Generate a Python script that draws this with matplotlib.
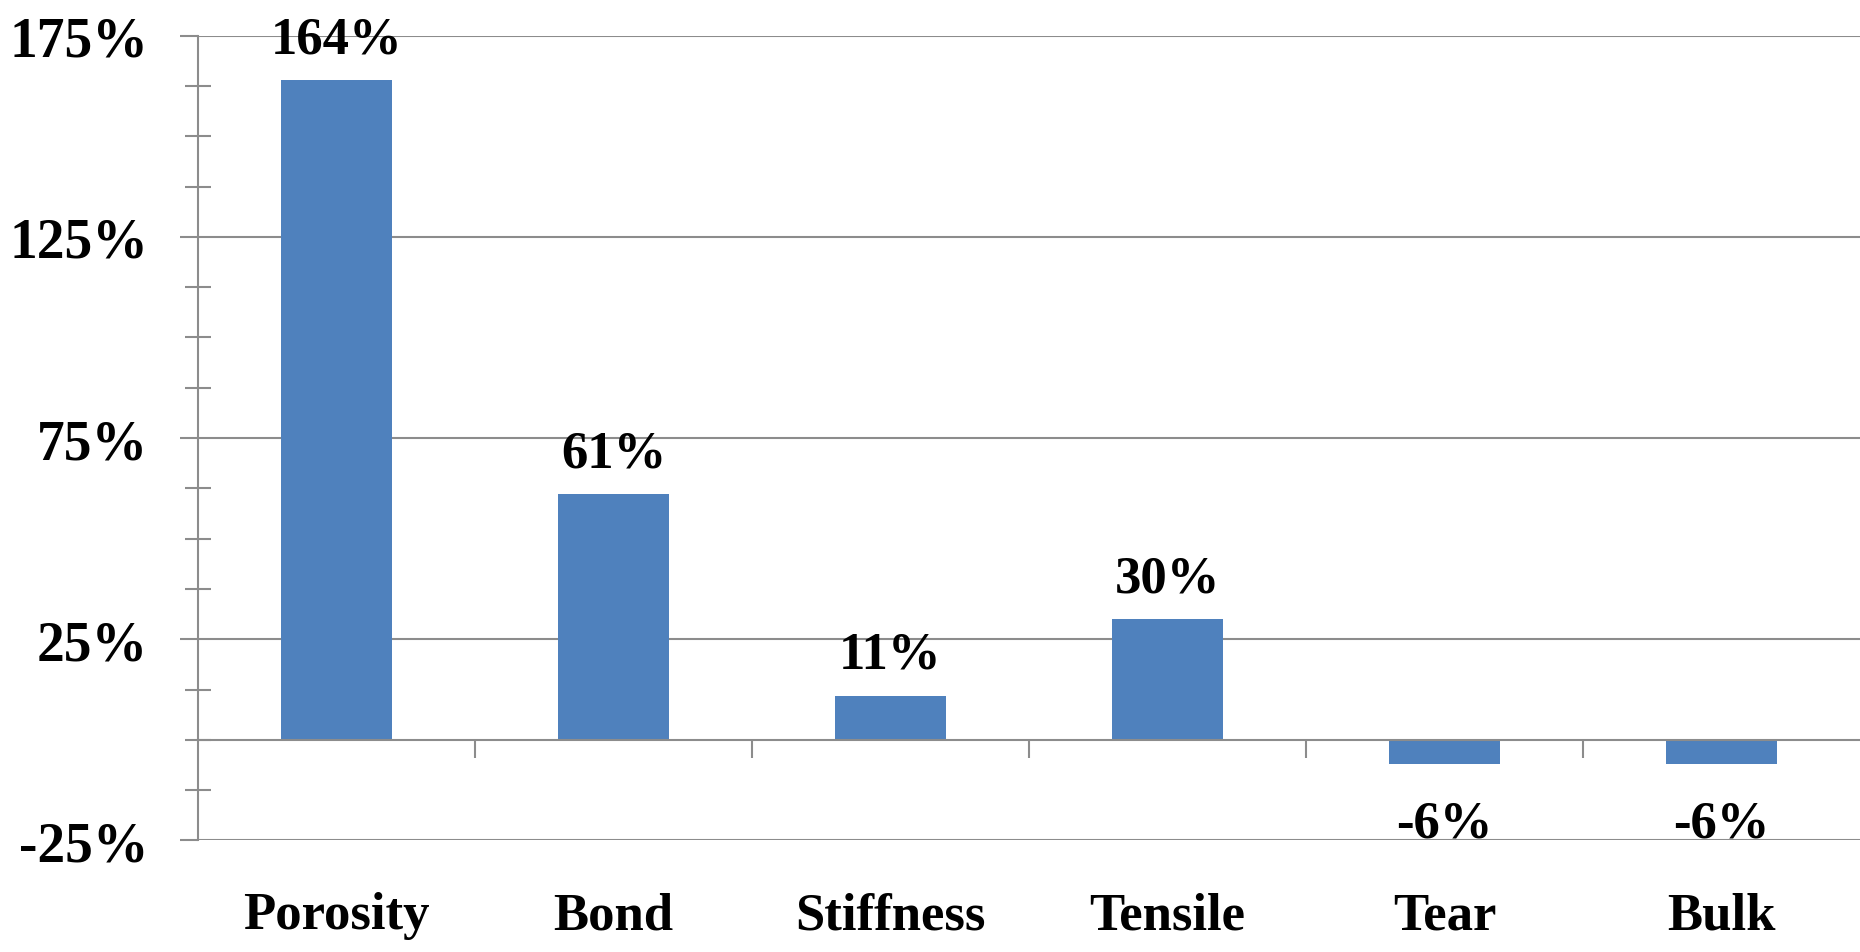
import matplotlib
matplotlib.use('Agg')
import matplotlib.pyplot as plt
import numpy as np
from matplotlib.ticker import MultipleLocator

categories = ['Porosity', 'Bond', 'Stiffness', 'Tensile', 'Tear', 'Bulk']
values = [164, 61, 11, 30, -6, -6]
y_ticks = [-25, 25, 75, 125, 175]
y_min, y_max = -25, 175
minor_step = 12.5

plt.rcParams['font.family'] = ['Liberation Serif', 'DejaVu Serif']
plt.rcParams['font.weight'] = 'bold'

fig = plt.figure(figsize=(18.6, 9.53), dpi=100)
ax = fig.add_axes([0.1065, 0.117, 0.8935, 0.8445])

x = np.arange(len(categories))
ax.bar(x, values, width=0.4, color='#4F81BD', zorder=3)
ax.set_xlim(-0.5, len(categories) - 0.5)
ax.set_ylim(y_min, y_max)

grid_color = '#8C8C8C'
ax.set_yticks(y_ticks)
ax.set_yticklabels([f'{v}%' for v in y_ticks])
ax.yaxis.set_minor_locator(MultipleLocator(minor_step))
ax.grid(axis='y', which='major', color=grid_color, lw=1.5, zorder=0)

ax.spines['top'].set_visible(False)
ax.spines['right'].set_visible(False)
ax.spines['left'].set_color(grid_color)
ax.spines['left'].set_linewidth(1.5)
ax.spines['bottom'].set_position(('data', 0))
ax.spines['bottom'].set_color(grid_color)
ax.spines['bottom'].set_linewidth(1.5)
ax.spines['bottom'].set_zorder(4)

ax.set_xticks(x)
ax.set_xticklabels(categories)
ax.set_xticks(x[:-1] + 0.5, minor=True)
ax.tick_params(axis='x', which='major', length=0, pad=109, labelsize=38)
ax.tick_params(axis='x', which='minor', direction='out', length=13, width=1.5, color=grid_color)
ax.tick_params(axis='y', which='major', direction='out', length=13, width=1.5,
               color=grid_color, pad=23, labelsize=40)
ax.tick_params(axis='y', which='minor', direction='inout', length=19, width=1.5, color=grid_color)

for xi, v in zip(x, values):
    off = 20 if v >= 0 else -52
    ax.annotate(f'{v}%', (xi, v), xytext=(0, off), textcoords='offset points',
                ha='center', va='baseline', fontsize=38, fontweight='bold')

fig.savefig('out.png', dpi=100, facecolor='white')
